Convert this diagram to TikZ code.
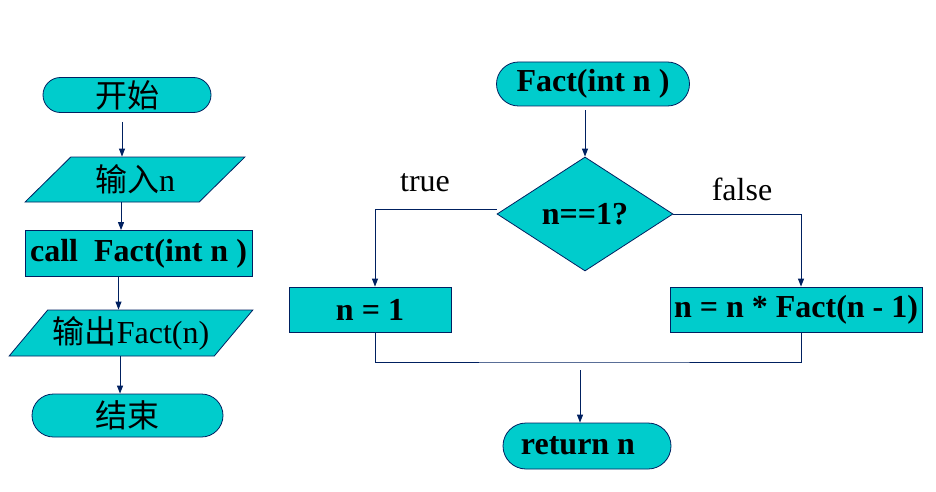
\documentclass[tikz,border=0pt]{standalone}
\usepackage{fontspec}
\setmainfont{Liberation Serif}
\newfontfamily\cjk{Noto Sans CJK SC}
\usetikzlibrary{shapes.geometric,shapes.misc,arrows.meta}
\definecolor{boxfill}{RGB}{0,204,204}
\definecolor{linecol}{RGB}{0,32,96}
\tikzset{
	txt/.style={font=\fontsize{32}{37}\selectfont},
	bold/.style={font=\fontsize{32}{37}\selectfont\bfseries},
	term/.style={rounded rectangle, draw=linecol, fill=boxfill, line width=0.8pt, inner sep=0pt},
	proc/.style={rectangle, draw=linecol, fill=boxfill, line width=0.8pt, inner sep=0pt},
	io/.style={trapezium, trapezium stretches=true, draw=linecol, fill=boxfill, line width=0.8pt, inner sep=0pt},
	cond/.style={diamond, draw=linecol, fill=boxfill, line width=0.8pt, inner sep=0pt},
	arr/.style={draw=linecol, line width=1pt, -{Triangle[length=8pt,width=6pt]}},
	conn/.style={draw=linecol, line width=1pt},
}

\begin{document}
\begin{tikzpicture}[x=1pt, y=-1pt]
	\useasboundingbox (0,0) rectangle (936,492);
	% main program
	\node[term, txt, minimum width=168, minimum height=35] (start) at (127,95) {\cjk 开始};
	\node[io, txt, minimum width=220, minimum height=45, trapezium left angle=46, trapezium right angle=134] (in) at (135,179.5) {{\cjk 输入}n};
	\node[proc, bold, minimum width=227, minimum height=46] (call) at (138.5,253.5) {call~ Fact(int n )};
	\node[io, txt, minimum width=244, minimum height=46, trapezium left angle=43, trapezium right angle=137] (out) at (131,333) {{\cjk 输出}Fact(n)};
	\node[term, txt, minimum width=191, minimum height=43] (stop) at (127.5,415.5) {\cjk 结束};
	\draw[arr] ([xshift=-5pt,yshift=-9pt]start.south) coordinate (a1) -- (a1 |- in.north);
	\draw[arr] ([xshift=-14pt]in.south) coordinate (a2) -- (a2 |- call.north);
	\draw[arr] ([xshift=-20pt]call.south) coordinate (a3) -- (a3 |- out.north);
	\draw[arr] ([xshift=-11pt]out.south) coordinate (a4) -- (a4 |- stop.north);
	% function
	\node[term, bold, minimum width=193, minimum height=44] (fact) at (593,84) {Fact(int n )};
	\node[cond, bold, minimum width=176, minimum height=114] (test) at (585,214) {n==1?};
	\node[proc, bold, minimum width=162, minimum height=45] (one) at (370,309.5) {n = 1};
	\node[proc, bold, minimum width=252, minimum height=45] (rec) at (796,309.5) {n = n * Fact(n - 1)};
	\node[term, bold, minimum width=168, minimum height=46] (ret) at (587,446) {return n\hspace*{18pt}};
	\node[txt] (yes) at (425,183) {true};
	\node[txt] (no) at (742,189) {false};
	\coordinate (join) at (580,362);
	\draw[arr, shorten <=4pt] (test.north |- fact.south) -- (test.north);
	\draw[arr] ([yshift=5pt]test.west) -| ([xshift=5pt]one.north);
	\draw[arr] (test.east) -| ([xshift=5pt]rec.north);
	%%\draw[conn] (one.south) |- (join) -| (rec.south);
	\draw[conn] ([xshift=5pt]one.south) |- (join) -| ([xshift=5pt]rec.south);
	\draw[arr, shorten <=8pt] (join) -- (join |- ret.north);
\end{tikzpicture}
\end{document}
